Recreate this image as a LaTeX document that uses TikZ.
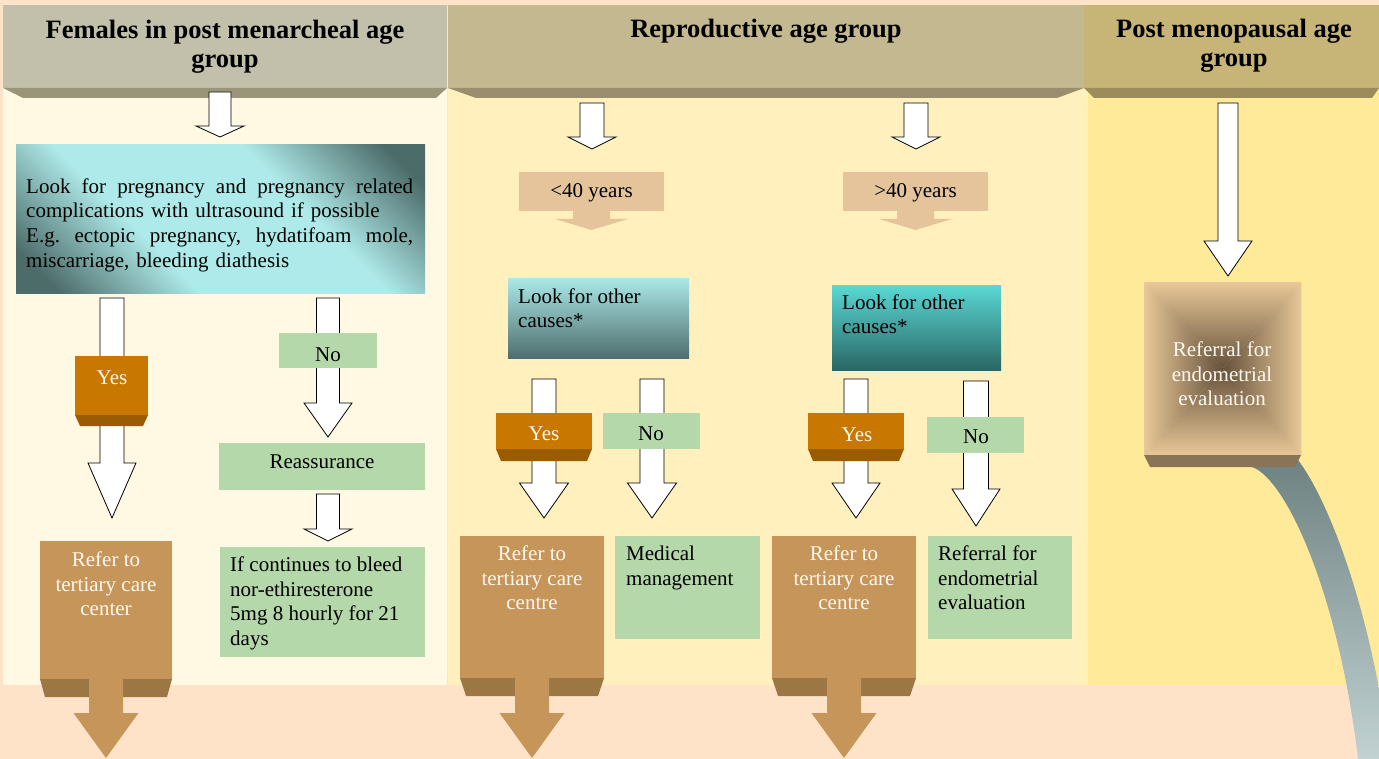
\documentclass[tikz,border=0pt]{standalone}
\usepackage{fontspec}
\setmainfont{Liberation Serif}
\definecolor{pagebg}{HTML}{FEE3C8}
\definecolor{pone}{HTML}{FFF8E2}
\definecolor{ptwo}{HTML}{FFF0BD}
\definecolor{pthree}{HTML}{FFEA99}
\definecolor{pthreeedge}{HTML}{FFF2B8}
\definecolor{hone}{HTML}{C2BFAB}
\definecolor{honeb}{HTML}{9A9479}
\definecolor{htwo}{HTML}{C3B890}
\definecolor{htwob}{HTML}{9A8E6E}
\definecolor{hthree}{HTML}{C6B577}
\definecolor{hthreeb}{HTML}{9C8C5C}
\definecolor{yesc}{HTML}{C87700}
\definecolor{yesb}{HTML}{9B5B00}
\definecolor{greenc}{HTML}{B5D8AA}
\definecolor{tanc}{HTML}{E5C49B}
\definecolor{brownc}{HTML}{C6955A}
\definecolor{brownb}{HTML}{9C7744}
\definecolor{tealdk}{HTML}{4C6C6A}
\definecolor{cyanlt}{HTML}{AEEAE9}
\definecolor{ctwotop}{HTML}{ABE8E8}
\definecolor{ctwobot}{HTML}{4F6E6E}
\definecolor{cthreetop}{HTML}{5AD8D4}
\definecolor{cthreebot}{HTML}{2A6664}
\definecolor{endodark}{HTML}{65513B}
\definecolor{endomid}{HTML}{B59670}
\definecolor{endolt}{HTML}{E8C898}
\definecolor{endob}{HTML}{8A7458}
\definecolor{ribtop}{HTML}{6F8282}
\definecolor{ribbot}{HTML}{C2D2D2}
\definecolor{wtext}{HTML}{FFF8F0}
\pgfdeclarehorizontalshading{diagband}{100bp}{color(0bp)=(tealdk); color(20bp)=(tealdk); color(38bp)=(cyanlt); color(62bp)=(cyanlt); color(80bp)=(tealdk); color(100bp)=(tealdk)}
\tikzset{
  titletxt/.style={font=\bfseries\fontsize{26.5}{29}\selectfont, align=center, inner sep=0pt, text=black},
  txt/.style={font=\fontsize{21}{24.8}\selectfont, inner sep=0pt, text=black},
  wtxt/.style={txt, text=wtext},
  warrow/.style={fill=white, draw=black, line width=0.8pt, line join=miter},
  barrow/.style={fill=brownc},
  tarrow/.style={fill=tanc},
  box/.style={inner sep=0pt, draw=none, anchor=north west},
}
\newcommand\tstrut{\rule{0pt}{15pt}}
\newcommand\hstrut{\rule{0pt}{19pt}}
\newcommand\jline[1]{\leavevmode\hbox to 387pt{#1}}
\newcommand\blockdown[7]{\path[#1] ({#2-#3},#5) -- ({#2+#3},#5) -- ({#2+#3},#6) -- ({#2+#4},#6) -- (#2,#7) -- ({#2-#4},#6) -- ({#2-#3},#6) -- cycle;}
\begin{document}
\frenchspacing
\begin{tikzpicture}[x=1pt,y=-1pt]
\useasboundingbox (0,0) rectangle (1379,759);
\clip (0,0) rectangle (1379,759);
\fill[pagebg] (0,0) rectangle (1379,759);
% panels
\fill[pone] (3,5) rectangle (447,685);
\fill[ptwo] (448,5) rectangle (1084,685);
\fill[pthree] (1084,5) rectangle (1379,685);
\fill[pthreeedge] (1084,88) rectangle (1088,685);
% headers
\fill[hone] (3,5) rectangle (447,88);
\fill[honeb] (3,88) -- (447,88) -- (436,98) -- (23,98) -- cycle;
\fill[htwo] (448,5) rectangle (1084,88);
\fill[htwob] (448,88) -- (1084,88) -- (1057,98) -- (476,98) -- cycle;
\fill[hthree] (1084,5) rectangle (1379,88);
\fill[hthreeb] (1084,88) -- (1379,88) -- (1372,98) -- (1094,98) -- cycle;
\node[titletxt, anchor=north] (title1) at (225,19) {\hstrut Females in post menarcheal age\\group};
\node[titletxt, anchor=base] (title2) at (766,38) {Reproductive age group};
\node[titletxt, anchor=north] (title3) at (1234,18) {\hstrut Post menopausal age\\group};

% ---------- panel 1 ----------
\blockdown{warrow}{220}{11}{24}{92}{126}{137}
\node[box, shade, shading=diagband, shading angle=45, minimum width=409pt, minimum height=149pt] (look1) at (16,144) {};
\node[txt, anchor=north west, text width=387pt, align=left] (tlook1) at (26,178)
 {\tstrut\jline{Look\hfill for\hfill pregnancy\hfill and\hfill pregnancy\hfill related}\\complications with ultrasound if possible\\\jline{E.g.\hfill ectopic\hfill pregnancy,\hfill hydatifoam\hfill mole,}\\miscarriage, bleeding diathesis};
\blockdown{warrow}{112}{12}{24}{298}{463}{518}
\node[box, fill=yesc, minimum width=73pt, minimum height=59pt] (yes1) at (75,356) {};
\fill[yesb] (75,415) -- (148,415) -- (143,426) -- (80,426) -- cycle;
\node[wtxt, anchor=base] (tyes1) at (112,384) {Yes};
\blockdown{warrow}{328}{11.5}{24}{298}{403}{437}
\node[box, fill=greenc, minimum width=98pt, minimum height=35pt] (no1) at (279,333) {};
\node[txt, anchor=base] (tno1) at (328,361) {No};
\node[box, fill=greenc, minimum width=206pt, minimum height=47pt] (reas) at (219,443) {};
\node[txt, anchor=base] (treas) at (322,468) {Reassurance};
\blockdown{warrow}{328}{11.5}{24}{494}{529}{541}
\node[box, fill=greenc, minimum width=205pt, minimum height=110pt] (cont) at (220,547) {};
\node[txt, anchor=north west, align=left] (tcont) at (230,556) {\tstrut If continues to bleed\\nor-ethiresterone\\5mg 8 hourly for 21\\days};
\node[box, fill=brownc, minimum width=132pt, minimum height=138pt] (ref1) at (40,541) {};
\fill[brownb] (40,679) -- (172,679) -- (167,697) -- (45,697) -- cycle;
\blockdown{barrow}{106}{17}{32.5}{679}{713}{758}
\node[wtxt, anchor=north, align=center] (tref1) at (106,551) {\tstrut Refer to\\tertiary care\\center};

% ---------- panel 2 ----------
\blockdown{warrow}{592}{12}{24}{103}{137}{149}
\blockdown{warrow}{916}{12}{24}{103}{137}{149}
\node[box, fill=tanc, minimum width=145pt, minimum height=39pt] (age1) at (519,172) {};
\node[txt, anchor=base] (tage1) at (591.5,198) {<40 years};
\blockdown{tarrow}{591.5}{18.5}{36.5}{210}{219}{230}
\node[box, fill=tanc, minimum width=145pt, minimum height=39pt] (age2) at (843,172) {};
\node[txt, anchor=base] (tage2) at (915.5,198) {>40 years};
\blockdown{tarrow}{915.5}{18.5}{36.5}{210}{219}{230}
\node[box, top color=ctwotop, bottom color=ctwobot, minimum width=181pt, minimum height=80pt] (look2) at (508,278) {};
\node[txt, anchor=north west, align=left] (tlook2) at (518,288) {\tstrut Look for other\\causes*};
\blockdown{warrow}{544}{12}{24.5}{379}{483}{518}
\node[box, fill=yesc, minimum width=96pt, minimum height=36pt] (yes2) at (496,413) {};
\fill[yesb] (496,449) -- (592,449) -- (587,461) -- (501,461) -- cycle;
\node[wtxt, anchor=base] (tyes2) at (544,440) {Yes};
\blockdown{warrow}{652}{12}{24.5}{379}{483}{518}
\node[box, fill=greenc, minimum width=97pt, minimum height=36pt] (no2) at (603,413) {};
\node[txt, anchor=base] (tno2) at (651,440) {No};
\node[box, top color=cthreetop, bottom color=cthreebot, minimum width=169pt, minimum height=85pt] (look3) at (832,285) {};
\node[txt, anchor=north west, align=left] (tlook3) at (842,294) {\tstrut Look for other\\causes*};
\blockdown{warrow}{856}{12}{24}{379}{483}{518}
\node[box, fill=yesc, minimum width=96pt, minimum height=36pt] (yes3) at (808,413) {};
\fill[yesb] (808,449) -- (904,449) -- (899,461) -- (813,461) -- cycle;
\node[wtxt, anchor=base] (tyes3) at (857,441) {Yes};
\blockdown{warrow}{976}{12.5}{24}{381}{489}{526}
\node[box, fill=greenc, minimum width=97pt, minimum height=36pt] (no3) at (927,417) {};
\node[txt, anchor=base] (tno3) at (976,443) {No};
% bottom row
\node[box, fill=brownc, minimum width=144pt, minimum height=142pt] (ref2) at (460,536) {};
\fill[brownb] (460,678) -- (604,678) -- (598,696) -- (466,696) -- cycle;
\blockdown{barrow}{532}{17}{32.5}{678}{713}{758}
\node[wtxt, anchor=north, align=center] (tref2) at (532,545) {\tstrut Refer to\\tertiary care\\centre};
\node[box, fill=greenc, minimum width=145pt, minimum height=103pt] (med) at (615,536) {};
\node[txt, anchor=north west, align=left] (tmed) at (626,545) {\tstrut Medical\\management};
\node[box, fill=brownc, minimum width=144pt, minimum height=142pt] (ref3) at (772,536) {};
\fill[brownb] (772,678) -- (916,678) -- (910,696) -- (778,696) -- cycle;
\blockdown{barrow}{844}{17}{32.5}{678}{713}{758}
\node[wtxt, anchor=north, align=center] (tref3) at (844,545) {\tstrut Refer to\\tertiary care\\centre};
\node[box, fill=greenc, minimum width=144pt, minimum height=103pt] (refl) at (928,536) {};
\node[txt, anchor=north west, align=left] (trefl) at (938,545) {\tstrut Referral for\\endometrial\\evaluation};

% ---------- panel 3 ----------
\blockdown{warrow}{1228}{10}{24}{103}{241}{276}
\shade[top color=ribtop, bottom color=ribbot]
  (1252,467) .. controls (1285,478) and (1338,590) .. (1358,759)
  -- (1390,759) .. controls (1370,600) and (1325,495) .. (1298,460) -- cycle;
\node[box, minimum width=157pt, minimum height=173pt] (endo) at (1144,282) {};
\coordinate (ec) at (1222.5,368.5);
\shade[top color=endolt, middle color=endomid, bottom color=endodark] (endo.north west) -- (endo.north east) -- (ec) -- cycle;
\shade[top color=endodark, middle color=endomid, bottom color=endolt] (endo.south west) -- (endo.south east) -- (ec) -- cycle;
\shade[left color=endolt, middle color=endomid, right color=endodark] (endo.north west) -- (endo.south west) -- (ec) -- cycle;
\shade[left color=endodark, middle color=endomid, right color=endolt] (endo.north east) -- (endo.south east) -- (ec) -- cycle;
\fill[endob] (1144,455) -- (1301,455) -- (1295,467) -- (1150,467) -- cycle;
\node[wtxt, anchor=north, align=center] (tendo) at (1222,341) {\tstrut Referral for\\endometrial\\evaluation};
\end{tikzpicture}
\end{document}
